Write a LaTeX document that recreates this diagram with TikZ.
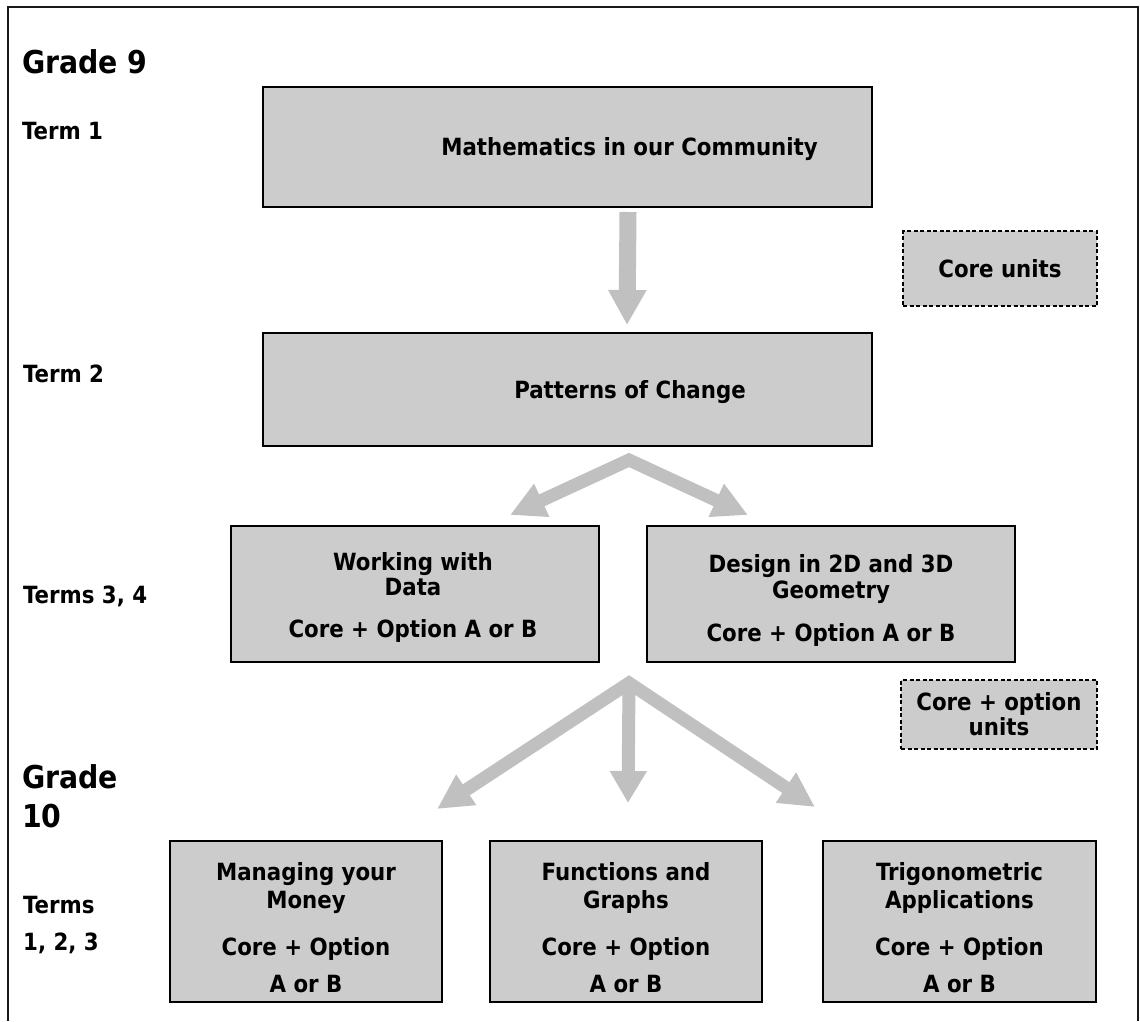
\documentclass[tikz,border=0pt]{standalone}
\usepackage{fontspec}
\setmainfont{DejaVu Sans Condensed}
\usetikzlibrary{arrows.meta}
\definecolor{boxgray}{HTML}{CCCCCC}
\definecolor{arrgray}{HTML}{C0C0C0}
\begin{document}
\begin{tikzpicture}[x=1pt,y=-1pt,
  box/.style={draw=black, line width=2.5pt, fill=boxgray, inner sep=0pt},
  dbox/.style={draw=black, line width=2pt, dash pattern=on 4pt off 2.5pt, fill=boxgray, inner sep=0pt},
  txt/.style={font=\bfseries\fontsize{23.7}{28}\selectfont, anchor=base, inner sep=0pt},
  lab/.style={font=\bfseries\fontsize{23.7}{28}\selectfont, anchor=base west, inner sep=0pt},
  grade/.style={font=\bfseries\fontsize{31.5}{38}\selectfont, anchor=base west, inner sep=0pt},
  bigarrow/.style={draw=arrgray, line width=#1, line join=miter},
  tip/.style={Triangle[width=36pt,length=35pt]}
]
\useasboundingbox (0,0) rectangle (1140,1021);
% frame
\draw[line width=2pt, black!90] (8,1021) -- (8,7) -- (1138,7) -- (1138,1021);

% left labels
\node[grade] (g9) at (22,73) {Grade 9};
\node[lab] (t1) at (22,139) {Term 1};
\node[lab] (t2) at (23,382) {Term 2};
\node[lab] (t34) at (23,603) {Terms 3, 4};
\node[grade] (g10a) at (22,788) {Grade};
\node[grade] (g10b) at (22,827) {10};
\node[lab] (t123a) at (23,913) {Terms};
\node[lab] (t123b) at (23,950) {1, 2, 3};

% boxes
\node[box, minimum width=609pt, minimum height=120pt] (b1) at (567.5,147) {};
\node[box, minimum width=609pt, minimum height=113pt] (b2) at (567.5,389.5) {};
\node[box, minimum width=368pt, minimum height=136pt] (b3) at (415,594) {};
\node[box, minimum width=368pt, minimum height=136pt] (b4) at (831,594) {};
\node[box, minimum width=272pt, minimum height=161pt] (b5) at (306,921.5) {};
\node[box, minimum width=272pt, minimum height=161pt] (b6) at (626,921.5) {};
\node[box, minimum width=273pt, minimum height=161pt] (b7) at (959.5,921.5) {};
\node[dbox, minimum width=194pt, minimum height=75pt] (cu) at (1000,268.5) {};
\node[dbox, minimum width=196pt, minimum height=69pt] (co) at (999,714.5) {};

% box texts
\node[txt] (x1) at (629.5,155) {Mathematics in our Community};
\node[txt] (x2) at (630,398) {Patterns of Change};
\node[txt] (x3a) at (413,570) {Working with};
\node[txt] (x3b) at (413,595) {Data};
\node[txt] (x3c) at (413,637) {Core + Option A or B};
\node[txt] (x4a) at (831,572) {Design in 2D and 3D};
\node[txt] (x4b) at (831,598) {Geometry};
\node[txt] (x4c) at (831,641) {Core + Option A or B};
\node[txt] (x5a) at (306,880) {Managing your};
\node[txt] (x5b) at (306,908) {Money};
\node[txt] (x5c) at (306,955) {Core + Option};
\node[txt] (x5d) at (306,992) {A or B};
\node[txt] (x6a) at (626,880) {Functions and};
\node[txt] (x6b) at (626,908) {Graphs};
\node[txt] (x6c) at (626,955) {Core + Option};
\node[txt] (x6d) at (626,992) {A or B};
\node[txt] (x7a) at (959.5,880) {Trigonometric};
\node[txt] (x7b) at (959.5,908) {Applications};
\node[txt] (x7c) at (959.5,955) {Core + Option};
\node[txt] (x7d) at (959.5,992) {A or B};
\node[txt] (xcu) at (1000,277) {Core units};
\node[txt] (xcoa) at (999,710) {Core + option};
\node[txt] (xcob) at (999,735) {units};

% arrows
\coordinate (a1s) at (628,212);
\coordinate (a1e) at (627,325);
\draw[bigarrow=17pt, -{Triangle[width=36pt,length=35pt]}] (a1s) -- (a1e);

\coordinate (ap1) at (629,460);
\coordinate (l1) at (510,515);
\coordinate (r1) at (748,515);
\draw[bigarrow=13pt, {Triangle[width=34pt,length=35pt]}-{Triangle[width=34pt,length=35pt]}] (l1) -- (ap1) -- (r1);

\coordinate (ap2) at (629,683);
\coordinate (l2) at (437,809);
\coordinate (c2) at (628,803);
\coordinate (r2) at (815,807);
\draw[bigarrow=13pt, {Triangle[width=34pt,length=35pt]}-{Triangle[width=34pt,length=35pt]}] (l2) -- (ap2) -- (r2);
\draw[bigarrow=13pt, -{Triangle[width=35pt,length=32pt]}] (ap2) -- (c2);
\end{tikzpicture}
\end{document}
